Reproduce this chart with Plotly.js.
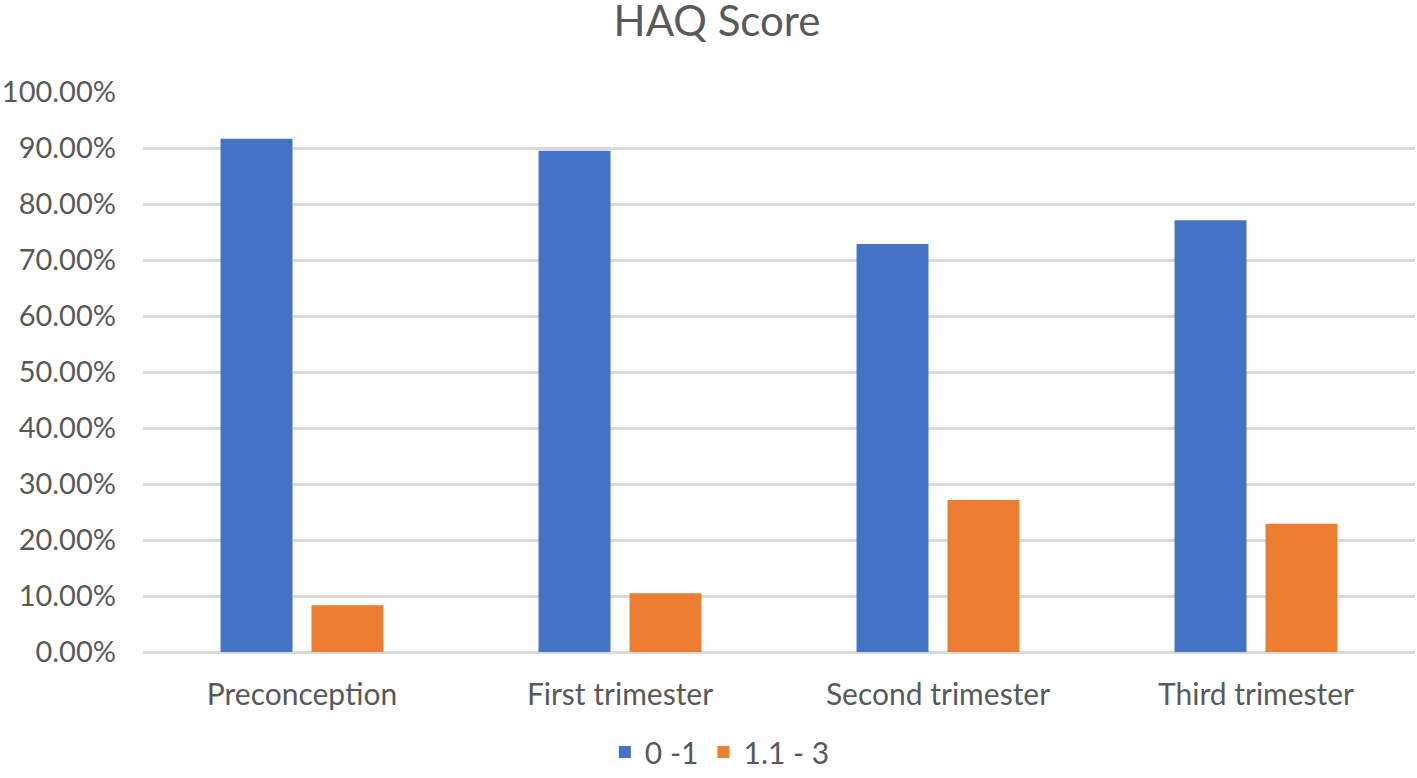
<!DOCTYPE html>
<html>
<head>
<meta charset="utf-8">
<script src="https://cdn.plot.ly/plotly-3.0.1.min.js"></script>
<style>html,body{margin:0;padding:0;background:#fff;}#chart{width:1417px;height:778px;}</style>
</head>
<body>
<div id="chart"></div>
<script>
const categories = ["Preconception", "First trimester", "Second trimester", "Third trimester"];
const series1Name = "0 -1";
const series1Values = [0.9167, 0.895, 0.7286, 0.7708];
const series2Name = "1.1 - 3";
const series2Values = [0.0833, 0.105, 0.2714, 0.2292];
const yTickValues = [0, 0.1, 0.2, 0.3, 0.4, 0.5, 0.6, 0.7, 0.8, 0.9, 1.0];

const fontFam = "Lato, 'Open Sans', sans-serif";
const textColor = "#595959";

const traces = [
  {type: "bar", name: series1Name, x: categories, y: series1Values, marker: {color: "#4472C4"}},
  {type: "bar", name: series2Name, x: categories, y: series2Values, marker: {color: "#ED7D31"}}
];

const layout = {
  width: 1417, height: 778,
  margin: {l: 143, r: 2, t: 92, b: 126},
  paper_bgcolor: "#fff", plot_bgcolor: "#fff",
  barmode: "group", bargap: 0.428, bargroupgap: 0.209,
  title: {text: "HAQ Score", x: 0.506, xref: "container", xanchor: "center",
          y: 0.972, yref: "container", yanchor: "middle",
          font: {family: fontFam, size: 42, color: textColor}},
  xaxis: {tickfont: {family: fontFam, size: 30, color: textColor}, showgrid: false,
          showline: false, zeroline: false, ticks: "", ticklabelstandoff: 22},
  yaxis: {range: [0, 1.0], tickvals: yTickValues, tickformat: ".2%",
          tickfont: {family: fontFam, size: 29, color: textColor},
          gridcolor: "#d9d9d9", gridwidth: 3, zeroline: true, zerolinecolor: "#d9d9d9", zerolinewidth: 3,
          showline: false, ticks: "", ticklabelstandoff: 26},
  legend: {orientation: "h", xref: "container", yref: "container", x: 0.508, xanchor: "center",
           y: 0, yanchor: "bottom", font: {family: fontFam, size: 30, color: textColor},
           itemwidth: 30, traceorder: "normal"},
  showlegend: true
};

Plotly.newPlot("chart", traces, layout, {displayModeBar: false, staticPlot: true});
</script>
</body>
</html>
